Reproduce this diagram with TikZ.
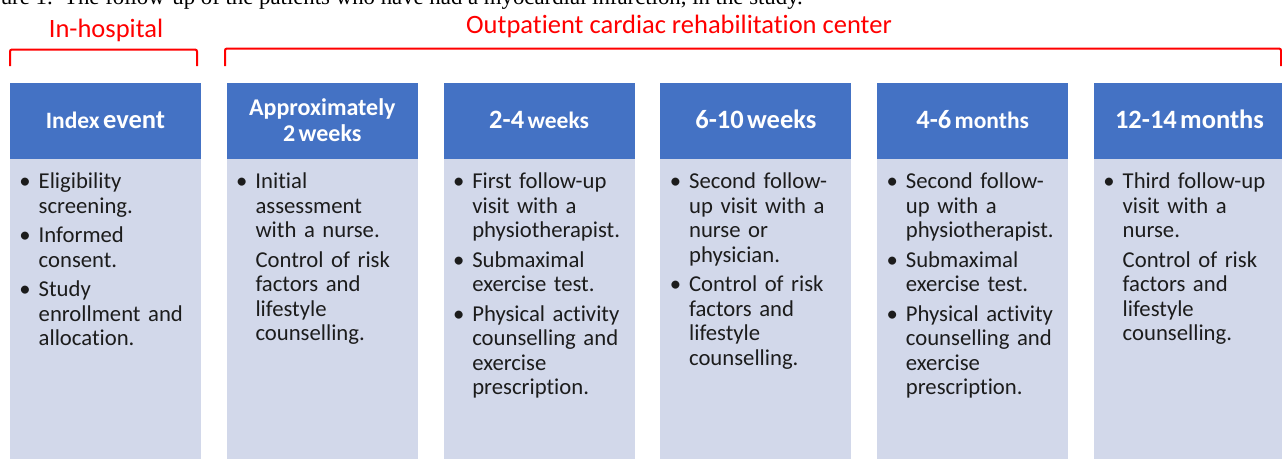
\documentclass[tikz,border=0pt]{standalone}
\usepackage{fontspec}
\setmainfont{Carlito}[Ligatures={NoCommon}]
\newfontfamily\capfont{Liberation Serif}
\definecolor{hdrblue}{HTML}{4472C4}
\definecolor{bodyfill}{HTML}{D2D8EA}
\definecolor{bodyink}{HTML}{1C1C1C}
\definecolor{labred}{HTML}{FF0000}
\newcommand{\bul}{\leavevmode\llap{\textbullet\hspace{8pt}}}
\newcommand{\bigh}{\fontsize{26.5}{28}\selectfont}
\newcommand{\smallh}{\fontsize{23.5}{26}\selectfont}
\begin{document}
\begin{tikzpicture}[x=1pt,y=-1pt,
  hdr/.style={fill=hdrblue, minimum width=191pt, minimum height=76pt, anchor=north west, inner sep=0pt, outer sep=0pt},
  bodybox/.style={fill=bodyfill, minimum width=191pt, minimum height=310pt, anchor=north west, inner sep=0pt, outer sep=0pt},
  hdrtext/.style={text=white, font=\bfseries, anchor=base, inner sep=0pt, text width=185pt, align=center},
  bodytxt/.style={text=bodyink, font=\fontsize{22.7}{24.5}\selectfont, anchor=base west, inner sep=0pt, text width=170pt, align=left},
  grp/.style={text=labred, font=\fontsize{26.5}{30}\selectfont, anchor=base, inner sep=0pt},
  brace/.style={draw=labred, line width=2pt, rounded corners=2pt},
]
\useasboundingbox (0,0) rectangle (1282,458);
\fill[white] (0,0) rectangle (1282,458);
\clip (0,0) rectangle (1282,458);

% cut-off caption
\node[font=\capfont\fontsize{22.8}{26}\selectfont, anchor=base east, inner sep=0pt] (caption) at (803,4)
  {ure 1.\ \ The follow-up of the patients who have had a myocardial infarction, in the study.};

% group labels and brackets
\node[grp] (lblhosp) at (106,37.3) {In-hospital};
\node[grp] (lblout) at (679,33) {Outpatient cardiac rehabilitation center};
\coordinate (h1) at (10,66);
\coordinate (h2) at (10,49.5);
\coordinate (h3) at (197,49.5);
\coordinate (h4) at (197,66);
\coordinate (o1) at (225,66);
\coordinate (o2) at (225,48.5);
\coordinate (o3) at (1281,48.5);
\coordinate (o4) at (1281,66);
\draw[brace] (h1) -- (h2) -- (h3) -- (h4);
\draw[brace] (o1) -- (o2) -- (o3) -- (o4);

% columns
\foreach \i/\l in {1/10,2/226.8,3/443.6,4/660.4,5/877.2,6/1094}{
  \node[hdr] (hdr\i) at (\l,83) {};
  \node[bodybox] (body\i) at (\l,159) {};
}

% header texts
\node[hdrtext] (ht1) at (105.5,128.3) {{\smallh Index} {\bigh event}};
\node[hdrtext] (ht2) at (322.3,115) {\fontsize{24}{26}\selectfont Approximately\\2 weeks\par};
\node[hdrtext] (ht3) at (539.1,128.3) {{\bigh 2-4} {\smallh weeks}};
\node[hdrtext] (ht4) at (755.9,128.3) {\bigh 6-10 weeks};
\node[hdrtext] (ht5) at (972.7,128.3) {{\bigh 4-6} {\smallh months}};
\node[hdrtext] (ht6) at (1189.5,128.3) {\bigh 12-14 months};

% body texts
\node[bodytxt] (bt1) at (38.5,188.5) {\bul Eligibility\\screening.\\[5pt]\bul Informed\\consent.\\[5pt]\bul Study\\enrollment and\\allocation.};
\node[bodytxt] (bt2) at (255.3,188.5) {\bul Initial\\assessment\\with a nurse.\\[5pt]Control of risk\\factors and\\lifestyle\\counselling.};
\node[bodytxt] (bt3) at (472.1,188.5) {\bul First follow-up\\visit with a\\physiotherapist.\\[5pt]\bul Submaximal\\exercise test.\\[5pt]\bul Physical activity\\counselling and\\exercise\\prescription.};
\node[bodytxt] (bt4) at (688.9,188.5) {\bul Second follow-\\up visit with a\\nurse or\\physician.\\[5pt]\bul Control of risk\\factors and\\lifestyle\\counselling.};
\node[bodytxt] (bt5) at (905.7,188.5) {\bul Second follow-\\up with a\\physiotherapist.\\[5pt]\bul Submaximal\\exercise test.\\[5pt]\bul Physical activity\\counselling and\\exercise\\prescription.};
\node[bodytxt] (bt6) at (1122.5,188.5) {\bul Third follow-up\\visit with a\\nurse.\\[5pt]Control of risk\\factors and\\lifestyle\\counselling.};
\end{tikzpicture}
\end{document}
